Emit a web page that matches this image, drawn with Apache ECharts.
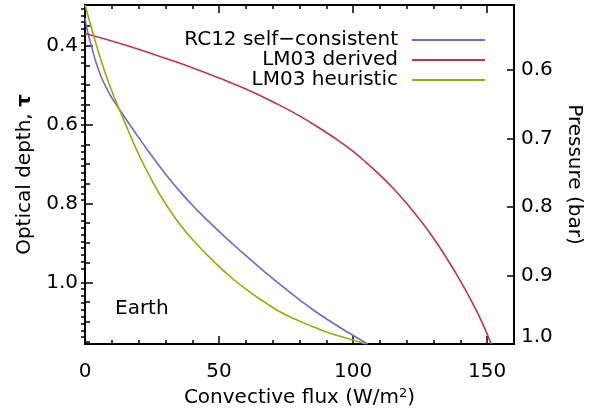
<!DOCTYPE html>
<html>
<head>
<meta charset="utf-8">
<script src="https://cdn.jsdelivr.net/npm/echarts@6/dist/echarts.min.js"></script>
<style>
  html, body { margin: 0; padding: 0; background: #fff; }
  #chart { width: 592px; height: 410px; }
</style>
</head>
<body>
<div id="chart"></div>
<script>
// RC12 self-consistent
var rcFlux = [0, 1, 2, 3, 4, 6, 8, 10, 13.2, 18, 23.7, 30, 36.1, 42, 48.5, 55, 61, 67, 73.4, 80, 85.8, 92, 98.2, 105.4];
var rcTau  = [0.33, 0.365, 0.392, 0.416, 0.44, 0.478, 0.507, 0.532, 0.565, 0.613, 0.668, 0.725, 0.775, 0.818, 0.861, 0.902, 0.938, 0.973, 1.009, 1.044, 1.073, 1.101, 1.127, 1.156];
// LM03 derived
var ldFlux = [0, 10, 20, 30, 40, 50, 60, 70, 80, 90, 95, 100, 105, 110, 115, 120, 125, 130, 135, 140, 145, 148, 151.5];
var ldTau  = [0.369, 0.388, 0.409, 0.432, 0.456, 0.482, 0.51, 0.542, 0.578, 0.62, 0.643, 0.668, 0.697, 0.728, 0.762, 0.80, 0.842, 0.888, 0.94, 0.996, 1.058, 1.10, 1.156];
// LM03 heuristic
var lhFlux = [0, 2, 4, 6, 8, 10, 13, 16, 20, 25, 30, 36, 42, 48.5, 55, 61, 67, 73.4, 80, 86, 92, 98, 104.8];
var lhTau  = [0.297, 0.345, 0.393, 0.437, 0.478, 0.515, 0.565, 0.613, 0.675, 0.742, 0.80, 0.858, 0.905, 0.95, 0.99, 1.022, 1.05, 1.077, 1.098, 1.115, 1.13, 1.142, 1.156];

var fluxMajor = [0, 50, 100, 150];
var tauMajor = [0.4, 0.6, 0.8, 1.0];
var presMajor = [0.6, 0.7, 0.8, 0.9, 1.0];

var fluxMinor = [];
for (var i = 10; i < 160; i += 10) if (i % 50) fluxMinor.push(i);
var tauMinor = [];
for (var j = 35; j <= 115; j += 5) if (j % 20) tauMinor.push(j / 100);
var presMinor = [];
for (var k = 51; k < 100; k++) if (k % 10) presMinor.push(k / 100);

function pairs(xs, ys) {
    return xs.map(function (x, i) { return [x, ys[i]]; });
}

var font = 'DejaVu Sans';
var black = '#000';
var fs = 20;

function xAx(pos, ticks, len, labels) {
    return {
        type: 'value', position: pos, min: 0, max: 160,
        axisLine: { show: true, onZero: false, lineStyle: { color: black, width: 2 } },
        axisTick: { show: true, inside: true, length: len, customValues: ticks,
            lineStyle: { color: black, width: 1.5 } },
        axisLabel: labels ? { show: true, customValues: ticks, margin: 18,
            color: black, fontSize: fs, fontFamily: font } : { show: false },
        splitLine: { show: false }
    };
}

var myChart = echarts.init(document.getElementById('chart'), null, { renderer: 'canvas' });
var option = {
    animation: false,
    backgroundColor: '#fff',
    textStyle: { fontFamily: font },
    title: {
        text: 'Earth', left: 115, top: 299, padding: 0,
        textStyle: { fontSize: fs, fontWeight: 'normal', color: black, fontFamily: font }
    },
    legend: {
        orient: 'vertical', align: 'right', right: 107, top: 30, padding: 0,
        icon: 'rect', itemWidth: 73, itemHeight: 2, itemGap: 0,
        textStyle: { fontSize: fs, color: black, fontFamily: font, lineHeight: 19.5, padding: [0, 9, 0, 0] },
        data: ['RC12 self\u2212consistent', 'LM03 derived', 'LM03 heuristic']
    },
    grid: { left: 85, right: 78, top: 5, bottom: 66, containLabel: false, outerBoundsMode: 'none' },
    xAxis: [
        Object.assign(xAx('bottom', fluxMajor, 8, true), {
            name: 'Convective flux (W/m{s|2})', nameLocation: 'middle', nameGap: 41,
            nameTextStyle: { fontSize: fs, color: black, fontFamily: font,
                rich: { s: { fontSize: 13, verticalAlign: 'top', padding: [0, 0, 8, 0], fontFamily: font, color: black } } }
        }),
        xAx('bottom', fluxMinor, 4, false),
        xAx('top', fluxMajor, 8, false),
        xAx('top', fluxMinor, 4, false)
    ],
    yAxis: [
        {
            type: 'value', position: 'left', inverse: true, min: 0.297, max: 1.156,
            name: 'Optical depth, {b|\u03c4}', nameLocation: 'middle', nameGap: 46, nameRotate: 90,
            nameTextStyle: { fontSize: fs, color: black, fontFamily: font,
                rich: { b: { fontSize: fs, fontWeight: 'bold', fontFamily: font, color: black } } },
            axisLine: { show: true, onZero: false, lineStyle: { color: black, width: 2 } },
            axisTick: { show: true, inside: true, length: 8, customValues: tauMajor, lineStyle: { color: black, width: 1.5 } },
            axisLabel: { customValues: tauMajor, margin: 7, color: black, fontSize: fs, fontFamily: font,
                formatter: function (v) { return v.toFixed(1); } },
            splitLine: { show: false }
        },
        {
            type: 'value', position: 'left', inverse: true, min: 0.297, max: 1.156,
            axisLine: { show: false },
            axisTick: { show: true, inside: true, length: 5, customValues: tauMinor, lineStyle: { color: black, width: 1.5 } },
            axisLabel: { show: false }, splitLine: { show: false }
        },
        {
            type: 'value', position: 'right', inverse: true, min: 0.505, max: 1.0,
            name: 'Pressure (bar)', nameLocation: 'middle', nameGap: 46, nameRotate: -90,
            nameTextStyle: { fontSize: fs, color: black, fontFamily: font },
            axisLine: { show: true, onZero: false, lineStyle: { color: black, width: 2 } },
            axisTick: { show: true, inside: true, length: 7, customValues: presMajor, lineStyle: { color: black, width: 1.5 } },
            axisLabel: { customValues: presMajor, margin: 7, color: black, fontSize: fs, fontFamily: font,
                lineHeight: 14, verticalAlignMaxLabel: 'bottom',
                formatter: function (v) { return v.toFixed(1); } },
            splitLine: { show: false }
        },
        {
            type: 'value', position: 'right', inverse: true, min: 0.505, max: 1.0,
            axisLine: { show: false },
            axisTick: { show: true, inside: true, length: 4, customValues: presMinor, lineStyle: { color: black, width: 1.5 } },
            axisLabel: { show: false }, splitLine: { show: false }
        }
    ],
    series: [
        { name: 'RC12 self\u2212consistent', type: 'line', symbol: 'none', smooth: 0.5,
          lineStyle: { color: '#6b6bd6', width: 1.6 }, itemStyle: { color: '#6b6bd6' },
          data: pairs(rcFlux, rcTau) },
        { name: 'LM03 derived', type: 'line', symbol: 'none', smooth: 0.5,
          lineStyle: { color: '#c2334f', width: 1.6 }, itemStyle: { color: '#c2334f' },
          data: pairs(ldFlux, ldTau) },
        { name: 'LM03 heuristic', type: 'line', symbol: 'none', smooth: 0.5,
          lineStyle: { color: '#9aab00', width: 1.6 }, itemStyle: { color: '#9aab00' },
          data: pairs(lhFlux, lhTau) }
    ]
};
myChart.setOption(option);
</script>
</body>
</html>
